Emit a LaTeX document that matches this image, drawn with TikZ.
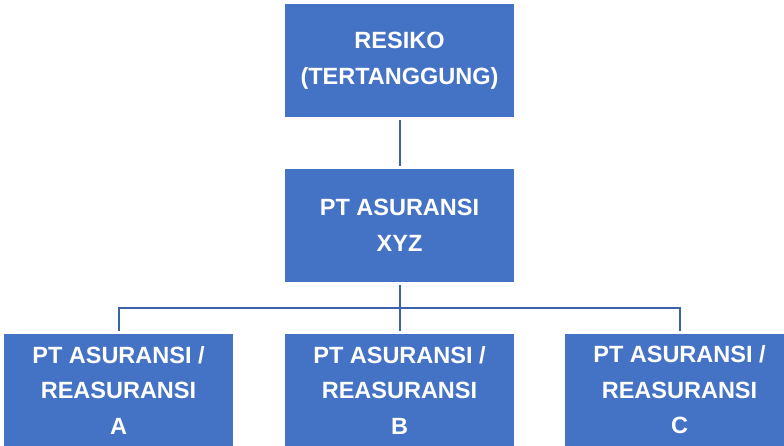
\documentclass[tikz,border=0pt]{standalone}
\usepackage{fontspec}
\setmainfont{Liberation Sans}
\definecolor{boxblue}{HTML}{4472C4}
\definecolor{lineblue}{HTML}{3C62A8}
\begin{document}
\begin{tikzpicture}[x=1pt,y=-1pt,
  orgbox/.style={rectangle,fill=boxblue,text=white,inner sep=0pt,
    minimum width=229pt,minimum height=113pt,align=center,
    font=\fontsize{23.5}{35.5}\selectfont\bfseries},
  link/.style={draw=lineblue,line width=2pt,shorten <=3pt,shorten >=2.5pt}]
\useasboundingbox (0,0) rectangle (784,446);
\node[orgbox] (resiko) at (399.5,60.5) {RESIKO\\(TERTANGGUNG)};
\node[orgbox] (xyz) at (399.5,225.5) {PT ASURANSI\\XYZ};
\node[orgbox] (reasA) at (118.5,390) {PT ASURANSI /\\REASURANSI\\A};
\node[orgbox] (reasB) at (399.5,390) {PT ASURANSI /\\REASURANSI\\B};
\node[orgbox] (reasC) at (679.5,390) {PT ASURANSI /\\REASURANSI\\C};
\coordinate (bus) at (399.5,308);
\draw[link] (resiko.south) -- (xyz.north);
\draw[link] (xyz.south) -- (reasB.north);
\draw[link] (xyz.south) -- (bus) -| (reasA.north);
\draw[link] (xyz.south) -- (bus) -| (reasC.north);
\end{tikzpicture}
\end{document}
